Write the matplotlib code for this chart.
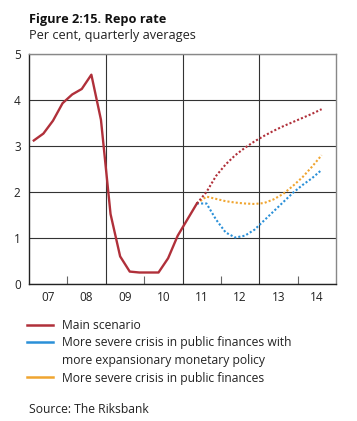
import matplotlib.pyplot as plt
from matplotlib.lines import Line2D

plt.rcParams['font.family'] = ['Open Sans', 'DejaVu Sans']

# quarterly averages, Q1 2007 onwards (outcome)
main_actual = [3.12, 3.27, 3.55, 3.93, 4.12, 4.24, 4.55, 3.57,
               1.52, 0.60, 0.27, 0.25, 0.25, 0.25, 0.56, 1.05,
               1.40, 1.75]
# forecasts, Q2 2011 to Q3 2014
main_fc = [1.75, 2.00, 2.35, 2.60, 2.80, 2.96, 3.10, 3.22, 3.33,
           3.43, 3.52, 3.61, 3.70, 3.80]
blue_fc = [1.75, 1.75, 1.40, 1.12, 1.01, 1.05, 1.18, 1.38, 1.58,
           1.78, 1.98, 2.15, 2.30, 2.48]
yellow_fc = [1.75, 1.90, 1.85, 1.80, 1.77, 1.75, 1.74, 1.76, 1.84,
             1.96, 2.13, 2.32, 2.55, 2.80]

years = ['07', '08', '09', '10', '11', '12', '13', '14']

red = '#b0303a'
blue = '#2a90d8'
yellow = '#f0a530'

def qx(start, n):
    return [start + (i + 0.5) / 4 for i in range(n)]

fig = plt.figure(figsize=(3.57, 4.21), dpi=100)
ax = fig.add_axes([29/357, 1 - 284/421, 307/357, 230/421])

x_act = qx(2007, len(main_actual))
x_fc = qx(2011.25, len(main_fc))

ax.plot(x_fc, yellow_fc, color=yellow, lw=1.5, ls=(0, (1, 1)), zorder=3)
ax.plot(x_fc, blue_fc, color=blue, lw=1.5, ls=(0, (1, 1)), zorder=3)
ax.plot(x_fc, main_fc, color=red, lw=1.5, ls=(0, (1, 1)), zorder=4)
ax.plot(x_act, main_actual, color=red, lw=1.7, zorder=5)

ax.set_xlim(2007, 2015)
ax.set_ylim(0, 5)
ax.set_yticks([0, 1, 2, 3, 4, 5])
ax.set_xticks([2009, 2011, 2013])
ax.set_xticks([2008, 2010, 2012, 2014], minor=True)
ax.set_xticklabels([])
for i, y in enumerate(years):
    ax.text(2007.5 + i, -0.15, y, ha='center', va='top', fontsize=8.5,
            color='#222222', transform=ax.transData)
ax.grid(axis='y', color='#333333', lw=0.8)
ax.grid(axis='x', which='major', color='#333333', lw=0.8)
ax.tick_params(axis='x', which='major', length=0)
ax.tick_params(axis='x', which='minor', direction='in', length=6,
               width=0.8, color='#666666')
ax.tick_params(axis='y', length=0, labelsize=8.5, pad=6, colors='#222222')
for s in ['left', 'bottom']:
    ax.spines[s].set_color('#222222')
    ax.spines[s].set_linewidth(1.0)
for s in ['top', 'right']:
    ax.spines[s].set_color('#888888')
    ax.spines[s].set_linewidth(1.0)
ax.set_axisbelow(True)

fig.text(29/357, 1 - 23/421, 'Figure 2:15. Repo rate', fontsize=9.2,
         fontweight='bold', va='baseline', color='#111111')
fig.text(29/357, 1 - 39/421, 'Per cent, quarterly averages', fontsize=9.2,
         va='baseline', color='#222222')

# second line of the blue label gets an empty handle
handles = [Line2D([], [], color=red, lw=1.8),
           Line2D([], [], color=blue, lw=1.8),
           Line2D([], [], color='none', lw=1.8),
           Line2D([], [], color=yellow, lw=1.8)]
labels = ['Main scenario',
          'More severe crisis in public finances with',
          'more expansionary monetary policy',
          'More severe crisis in public finances']
leg = fig.legend(handles, labels, loc='upper left',
                 bbox_to_anchor=(22/357, 1 - 314/421), frameon=False,
                 fontsize=8.7, handlelength=2.2, handletextpad=0.7,
                 labelspacing=0.38, borderaxespad=0)
for t in leg.get_texts():
    t.set_color('#222222')

fig.text(29/357, 1 - 413/421, 'Source: The Riksbank', fontsize=8.7,
         va='baseline', color='#222222')

fig.savefig('out.png', dpi=100)
